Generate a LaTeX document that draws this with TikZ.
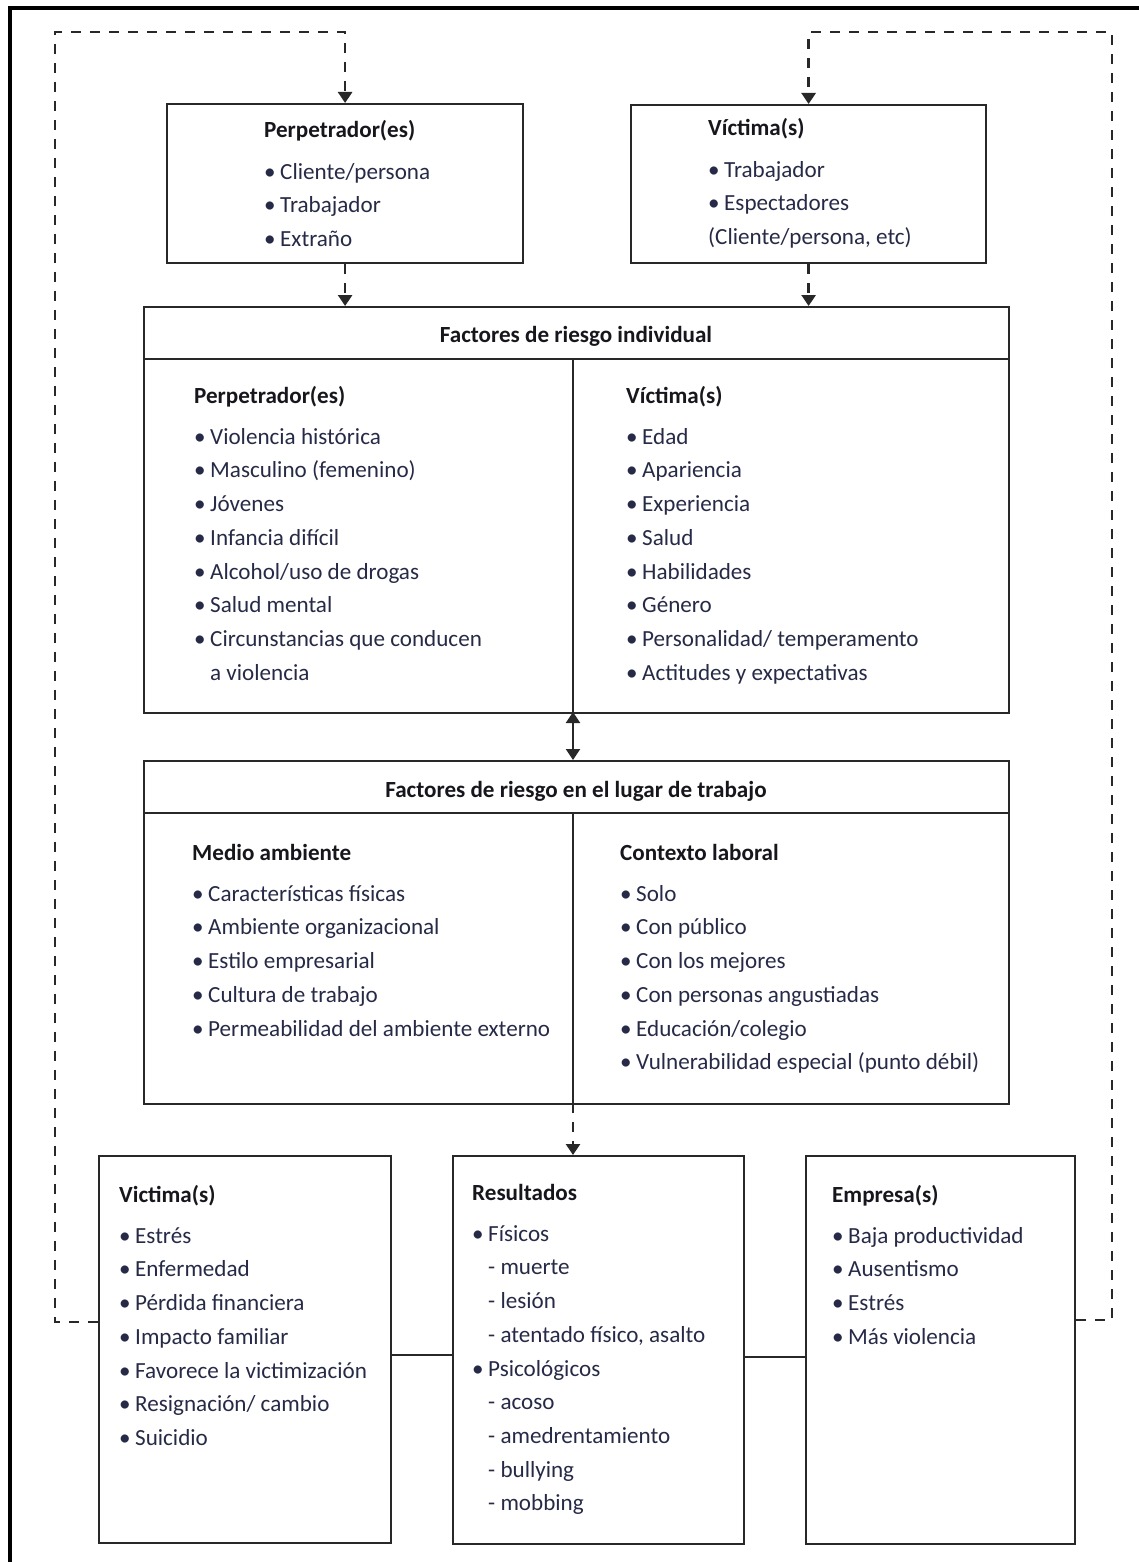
\documentclass[tikz,border=0pt]{standalone}
\usepackage{fontspec}
\setmainfont{Carlito}
\usetikzlibrary{arrows.meta}
\definecolor{itemc}{RGB}{38,42,70}
\definecolor{headc}{RGB}{22,22,28}
\definecolor{linec}{RGB}{40,40,40}
\newcommand{\bt}[1]{\multicolumn{2}{@{}l@{}}{\bfseries\color{headc}#1}}
\newcommand{\bu}{\textbullet}
\newenvironment{blk}{\begin{tabular}[t]{@{}l@{\hspace{4.5pt}}l@{}}}{\end{tabular}}
\begin{document}
\begin{tikzpicture}[x=1pt,y=-1pt,
  box/.style={draw=linec,line width=2.2pt,inner sep=0pt,anchor=north west},
  txt/.style={anchor=base west,inner sep=0pt,text=itemc,font=\fontsize{23.1}{33.7}\selectfont},
  head/.style={anchor=base,inner sep=0pt,text=headc,font=\fontsize{23.1}{33.7}\selectfont\bfseries},
  rule/.style={draw=linec,line width=2.2pt},
  dashline/.style={draw=linec,line width=2.6pt,dash pattern=on 10pt off 9pt},
  solidline/.style={draw=linec,line width=2.2pt},
  tip/.style={-{Triangle[length=11pt,width=14pt]}},
  dtip/.style={{Triangle[length=11pt,width=14pt]}-{Triangle[length=11pt,width=14pt]}},
]
\useasboundingbox (0,0) rectangle (1139,1562);
% outer frame
\draw[line width=4.5pt,black] (10,1562) -- (10,8) -- (1139,8);

% boxes
\node[box,minimum width=356pt,minimum height=159pt] (pt) at (166,103) {};
\node[box,minimum width=355pt,minimum height=158pt] (vt) at (630,104) {};
\node[box,minimum width=865pt,minimum height=406pt] (ind) at (143,306) {};
\node[box,minimum width=865pt,minimum height=343pt] (wp) at (143,760) {};
\node[box,minimum width=292pt,minimum height=387pt] (bv) at (98,1155) {};
\node[box,minimum width=291pt,minimum height=388pt] (res) at (452,1155) {};
\node[box,minimum width=269pt,minimum height=388pt] (emp) at (805,1155) {};

% inner rules
\draw[rule] (143,359) -- (1008,359);
\draw[rule] (573,359) -- (573,712);
\draw[rule] (143,813) -- (1008,813);
\draw[rule] (573,813) -- (573,1103);

% headers
\node[head] (indh) at (576,342) {Factores de riesgo individual};
\node[head] (wph) at (576,797) {Factores de riesgo en el lugar de trabajo};

% texts
\node[txt] (ptt) at (264,138) {\begin{blk}
\bt{Perpetrador(es)}\\[7.5pt]
\bu & Cliente/persona\\
\bu & Trabajador\\
\bu & Extraño
\end{blk}};

\node[txt] (vtt) at (708,136) {\begin{blk}
\bt{Víctima(s)}\\[7.5pt]
\bu & Trabajador\\
\bu & Espectadores\\
\multicolumn{2}{@{}l@{}}{(Cliente/persona, etc)}
\end{blk}};

\node[txt] (indl) at (194,403) {\begin{blk}
\bt{Perpetrador(es)}\\[7.5pt]
\bu & Violencia histórica\\
\bu & Masculino (femenino)\\
\bu & Jóvenes\\
\bu & Infancia difícil\\
\bu & Alcohol/uso de drogas\\
\bu & Salud mental\\
\bu & Circunstancias que conducen\\
 & a violencia
\end{blk}};

\node[txt] (indr) at (626,403) {\begin{blk}
\bt{Víctima(s)}\\[7.5pt]
\bu & Edad\\
\bu & Apariencia\\
\bu & Experiencia\\
\bu & Salud\\
\bu & Habilidades\\
\bu & Género\\
\bu & Personalidad/ temperamento\\
\bu & Actitudes y expectativas
\end{blk}};

\node[txt] (wpl) at (192,860) {\begin{blk}
\bt{Medio ambiente}\\[7.5pt]
\bu & Características físicas\\
\bu & Ambiente organizacional\\
\bu & Estilo empresarial\\
\bu & Cultura de trabajo\\
\bu & Permeabilidad del ambiente externo
\end{blk}};

\node[txt] (wpr) at (620,860) {\begin{blk}
\bt{Contexto laboral}\\[7.5pt]
\bu & Solo\\
\bu & Con público\\
\bu & Con los mejores\\
\bu & Con personas angustiadas\\
\bu & Educación/colegio\\
\bu & Vulnerabilidad especial (punto débil)
\end{blk}};

\node[txt] (bvt) at (119,1202) {\begin{blk}
\bt{Victima(s)}\\[7.5pt]
\bu & Estrés\\
\bu & Enfermedad\\
\bu & Pérdida financiera\\
\bu & Impacto familiar\\
\bu & Favorece la victimización\\
\bu & Resignación/ cambio\\
\bu & Suicidio
\end{blk}};

\node[txt] (rest) at (472,1200) {\begin{blk}
\bt{Resultados}\\[7.5pt]
\bu & Físicos\\
 & - muerte\\
 & - lesión\\
 & - atentado físico, asalto\\
\bu & Psicológicos\\
 & - acoso\\
 & - amedrentamiento\\
 & - bullying\\
 & - mobbing
\end{blk}};

\node[txt] (empt) at (832,1202) {\begin{blk}
\bt{Empresa(s)}\\[7.5pt]
\bu & Baja productividad\\
\bu & Ausentismo\\
\bu & Estrés\\
\bu & Más violencia
\end{blk}};

% helper coordinates
\coordinate (d1) at (573,712);
\coordinate (d2) at (573,1103);
\coordinate (c1) at (0,1355);
\coordinate (c2) at (0,1357);
\coordinate (l1) at (0,1322);
\coordinate (l2) at (55,32);
\coordinate (r1) at (0,1320);
\coordinate (r2) at (1112,32);

% connectors
\draw[dashline,tip] (pt.south) -- (pt.south |- ind.north);
\draw[dashline,tip] (vt.south) -- (vt.south |- ind.north);
\draw[solidline,dtip] (d1) -- (d1 |- wp.north);
\draw[dashline,tip] (d2) -- (d2 |- res.north);
\draw[solidline] (bv.east |- c1) -- (res.west |- c1);
\draw[solidline] (res.east |- c2) -- (emp.west |- c2);
\draw[dashline,tip] (bv.west |- l1) -| (l2) -| (pt.north);
\draw[dashline,tip] (emp.east |- r1) -| (r2) -| (vt.north);
\end{tikzpicture}
\end{document}
